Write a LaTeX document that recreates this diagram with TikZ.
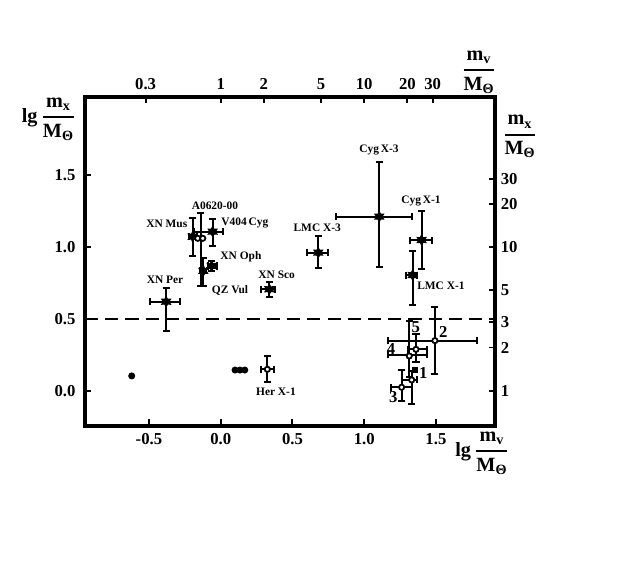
\documentclass[tikz,border=0pt]{standalone}
\usepackage{amsmath}
\usepackage{fontspec}
\setmainfont{Liberation Serif}
\usetikzlibrary{arrows.meta, shapes.geometric}

\newcommand{\massfrac}[1]{$\genfrac{}{}{1.1pt}{0}{\text{m}_{\text{#1}}}{\text{M}_{\text{Θ}}}$}

\begin{document}
\begin{tikzpicture}[x=2.87cm, y=2.87cm,
  axisline/.style={line width=2.3pt},
  tickline/.style={line width=1.1pt},
  ticklabel/.style={font=\fontsize{9.5}{11}\selectfont\bfseries, inner sep=0pt},
  axistitle/.style={font=\fontsize{11.5}{13}\selectfont\bfseries, inner sep=0pt},
  srclabel/.style={font=\fontsize{6.5}{8}\selectfont\bfseries, inner sep=0pt},
  errbar/.style={line width=1.1pt, {Bar[width=4pt]}-{Bar[width=4pt]}},
  bh/.style={star, star points=6, star point ratio=1.8, fill=black, inner sep=0pt, minimum size=7pt},
  ns/.style={circle, draw, line width=1pt, fill=white, inner sep=0pt, minimum size=3pt},
  optdot/.style={circle, fill=black, inner sep=0pt, minimum size=4pt},
  optsq/.style={rectangle, fill=black, inner sep=0pt, minimum size=3.5pt}]
\useasboundingbox (-1.538,-1.2355) rectangle (2.950,2.7227);

% frame and dividing line
\draw[axisline] (-0.9456,-0.2439) rectangle (1.9115,2.0488);
\draw[line width=1.1pt, dash pattern=on 7.5pt off 4pt] (-0.9456,0.5) -- (1.9115,0.5);

% bottom and left axes (lg)
\foreach \x/\lab in {-0.5/-0.5, 0/0.0, 0.5/0.5, 1/1.0, 1.5/1.5}
  \draw[tickline] (\x,-0.2439) -- ++(0,0.045) node[ticklabel] at (\x,-0.3387) {\lab};
\foreach \y/\lab in {0/0.0, 0.5/0.5, 1/1.0, 1.5/1.5}
  \draw[tickline] (-0.9456,\y) -- ++(0.045,0) node[ticklabel, anchor=east] at (-1.005,\y) {\lab};

% top and right axes (masses)
\foreach \v/\lg in {0.3/-0.5229, 1/0, 2/0.3010, 5/0.6990, 10/1, 20/1.3010, 30/1.4771}
  \draw[tickline] (\lg,2.0488) -- ++(0,-0.045) node[ticklabel] at (\lg,2.1355) {\v};
\foreach \v/\lg in {1/0, 2/0.3010, 3/0.4771, 5/0.6990, 10/1, 20/1.3010, 30/1.4771}
  \draw[tickline] (1.9115,\lg) -- ++(-0.045,0) node[ticklabel, anchor=west] at (1.946,\lg) {\v};

% axis titles
\node[axistitle] (ytitle) at (-1.197,1.891) {lg\,\massfrac{x}};
\node[axistitle] (xtitle) at (1.824,-0.434) {lg\,\massfrac{v}};
\node[axistitle] (mvtitle) at (1.800,2.221) {\massfrac{v}};
\node[axistitle] (mxtitle) at (2.086,1.770) {\massfrac{x}};

% error bars
\draw[errbar] (-0.140,0.725) -- (-0.140,1.243);
\foreach \x/\y/\xl/\xr/\yl/\yr in {
  -0.38/0.62/-0.50/-0.276/0.41/0.72,
  -0.195/1.073/-0.228/-0.158/0.934/1.213,
  -0.056/1.108/-0.190/0.025/1.003/1.205,
  -0.063/0.869/-0.098/-0.017/0.830/0.911,
  -0.121/0.835/-0.150/-0.092/0.725/0.934,
  0.339/0.707/0.274/0.383/0.648/0.765,
  0.680/0.962/0.594/0.757/0.846/1.085,
  1.105/1.213/0.800/1.342/0.857/1.603,
  1.400/1.050/1.310/1.480/0.840/1.260,
  1.338/0.806/1.284/1.377/0.590/0.980,
  0.325/0.149/0.274/0.378/0.056/0.249,
  1.493/0.349/1.157/1.795/0.109/0.590,
  1.361/0.288/1.296/1.447/0.190/0.400,
  1.314/0.250/1.157/1.447/0.087/0.493,
  1.331/0.075/1.260/1.377/-0.100/0.144,
  1.261/0.024/1.180/1.342/-0.077/0.149} {
  \draw[errbar] (\xl,\y) -- (\xr,\y);
  \draw[errbar] (\x,\yl) -- (\x,\yr);
}

% black hole candidates
\foreach \n/\x/\y in {xnper/-0.38/0.62, xnmus/-0.195/1.073, vcyg/-0.056/1.108,
  xnoph/-0.063/0.869, qzvul/-0.121/0.835, xnsco/0.339/0.707, lmcthree/0.680/0.962,
  cygthree/1.105/1.213, cygone/1.400/1.050, lmcone/1.338/0.806}
  \node[bh] (\n) at (\x,\y) {};

% open symbols
\foreach \n/\x/\y in {aoa/-0.160/1.062, aob/-0.125/1.062, herx/0.325/0.149,
  ptwo/1.493/0.349, pfive/1.361/0.288, pfour/1.314/0.242, pone/1.331/0.075,
  pthree/1.261/0.024}
  \node[ns] (\n) at (\x,\y) {};

% filled symbols
\foreach \n/\x in {da/0.100, db/0.134, dc/0.168}
  \node[optdot] (\n) at (\x,0.144) {};
\node[optdot] (dleft) at (-0.62,0.103) {};
\node[optsq] (sqone) at (1.354,0.144) {};

% names
\node[srclabel] (lxnper) at (-0.388,0.772) {XN Per};
\node[srclabel] (lxnmus) at (-0.376,1.162) {XN Mus};
\node[srclabel] (laoa) at (-0.040,1.289) {A0620-00};
\node[srclabel] (lvcyg) at (0.169,1.167) {V404\,Cyg};
\node[srclabel] (lxnoph) at (0.141,0.934) {XN Oph};
\node[srclabel] (lqzvul) at (0.065,0.697) {QZ Vul};
\node[srclabel] (lxnsco) at (0.390,0.806) {XN Sco};
\node[srclabel] (lherx) at (0.385,-0.007) {Her X-1};
\node[srclabel] (llmcthree) at (0.673,1.132) {LMC X-3};
\node[srclabel] (lcygthree) at (1.103,1.677) {Cyg\,X-3};
\node[srclabel] (lcygone) at (1.396,1.322) {Cyg\,X-1};
\node[srclabel] (llmcone) at (1.535,0.730) {LMC X-1};
\node[ticklabel] (lone) at (1.412,0.125) {1};
\node[ticklabel] (ltwo) at (1.552,0.411) {2};
\node[ticklabel] (lthree) at (1.203,-0.042) {3};
\node[ticklabel] (lfour) at (1.187,0.289) {4};
\node[ticklabel] (lfive) at (1.359,0.446) {5};
\end{tikzpicture}
\end{document}
